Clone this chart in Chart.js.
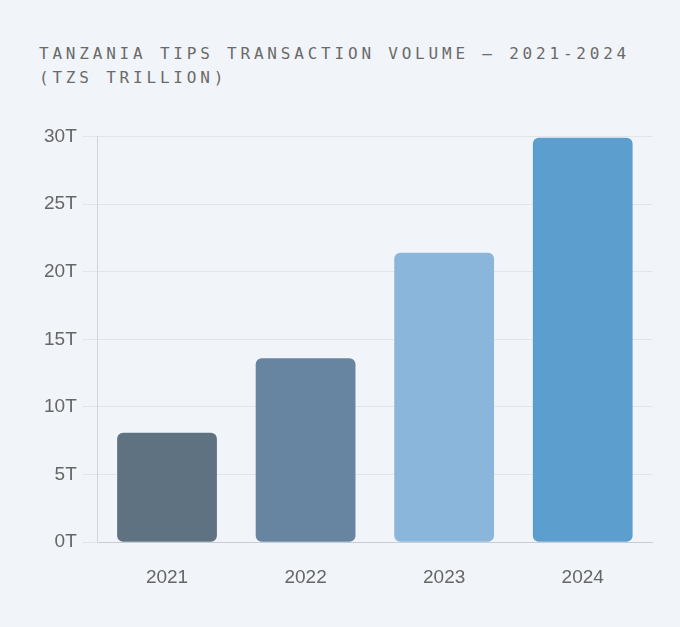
<!DOCTYPE html>
<html>
<head>
  <meta charset="UTF-8">
  <title>Tanzania TIPS Transaction Volume</title>
  <script src="https://cdn.jsdelivr.net/npm/chart.js"></script>
  <style>
    html, body {
      margin: 0;
      padding: 0;
      background: #f1f4f8;
      width: 680px;
      height: 627px;
      overflow: hidden;
    }
    #title {
      position: absolute;
      left: 39px;
      top: 42px;
      font-family: "DejaVu Sans Mono", monospace;
      font-size: 16px;
      line-height: 24px;
      letter-spacing: 3.8px;
      color: #6a6a6a;
    }
    #wrap {
      position: absolute;
      left: 0;
      top: 119px;
      width: 680px;
      height: 520px;
    }
  </style>
</head>
<body>
  <div id="title">TANZANIA TIPS TRANSACTION VOLUME — 2021-2024<br>(TZS TRILLION)</div>
  <div id="wrap"><canvas id="tipsChart"></canvas></div>

  <script>
    // values in TZS trillion
    const years = ['2021', '2022', '2023', '2024'];
    const volumes = [8.1, 13.6, 21.4, 29.9];
    const barColors = ['#5f7282', '#6784a0', '#8ab6dc', '#5c9ecd'];
    const yTicks = [0, 5, 10, 15, 20, 25, 30];

    const ctx = document.getElementById('tipsChart').getContext('2d');
    new Chart(ctx, {
      type: 'bar',
      data: {
        labels: years,
        datasets: [{
          data: volumes,
          backgroundColor: barColors,
          borderRadius: 6,
          borderSkipped: false,
          barPercentage: 0.9,
          categoryPercentage: 0.8
        }]
      },
      options: {
        responsive: true,
        maintainAspectRatio: false,
        animation: false,
        layout: {
          padding: { left: 38, right: 28, top: 14, bottom: 26 }
        },
        plugins: {
          legend: { display: false },
          tooltip: { enabled: false }
        },
        scales: {
          x: {
            grid: { display: false, drawTicks: false },
            border: { color: '#c9cdd3', width: 1 },
            ticks: {
              padding: 24,
              color: '#666',
              font: { family: 'Liberation Sans, Arial, sans-serif', size: 19 }
            }
          },
          y: {
            min: 0,
            max: 30,
            afterBuildTicks: axis => {
              axis.ticks = yTicks.map(v => ({ value: v }));
            },
            grid: { color: '#e1e5ea', tickLength: 15 },
            border: { color: '#d3d7dd', width: 1 },
            ticks: {
              padding: 6,
              color: '#666',
              font: { family: 'Liberation Sans, Arial, sans-serif', size: 19 },
              callback: v => v + 'T'
            }
          }
        }
      }
    });
  </script>
</body>
</html>
